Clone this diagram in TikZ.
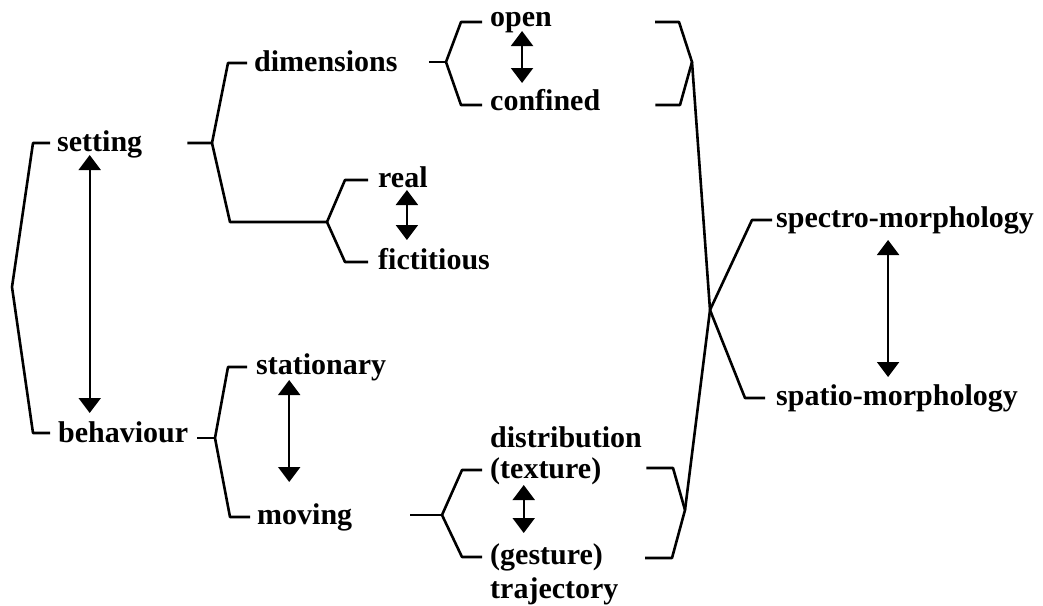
\documentclass[tikz,border=0pt]{standalone}
\usepackage{fontspec}
\setmainfont{Liberation Serif}
\usetikzlibrary{arrows.meta,calc}
\tikzset{
  >={Triangle[length=15pt,width=22pt]},
  term/.style={font=\fontsize{30}{34}\selectfont\bfseries, inner sep=0pt, anchor=base west},
  brk/.style={line width=2.6pt, line join=round},
  dbl/.style={<->, line width=2pt},
}

\begin{document}
\begin{tikzpicture}[x=1pt, y=-1pt]
  \useasboundingbox (0,0) rectangle (1043,605);
  % terms
  \node[term] (setting)   at (57,151)  {setting};
  \node[term] (behaviour) at (58,442)  {behaviour};
  \node[term] (dimensions) at (254,71) {dimensions};
  \node[term] (real)      at (378,187) {real};
  \node[term] (fictitious) at (378,269) {fictitious};
  \node[term] (stationary) at (256,374) {stationary};
  \node[term] (moving)    at (257,524) {moving};
  \node[term] (open)      at (490,27)  {open};
  \node[term] (confined)  at (490,110) {confined};
  \node[term] (distrib)   at (490,447) {distribution};
  \node[term] (texture)   at (490,478) {(texture)};
  \node[term] (gesture)   at (490,564) {(gesture)};
  \node[term] (traject)   at (490,598) {trajectory};
  \node[term] (spectro)   at (776,227) {spectro-morphology};
  \node[term] (spatio)    at (776,405) {spatio-morphology};
  % bracket joints
  \coordinate (jSB)  at (12,287);
  \coordinate (jSet) at (212,143);
  \coordinate (jRF)  at (327,222);
  \coordinate (jDim) at (446,62);
  \coordinate (jBeh) at (215,438);
  \coordinate (jMov) at (442,515);
  \coordinate (jOC)  at (692,62);
  \coordinate (jTG)  at (685,510);
  \coordinate (jX)   at (710,310);
  % brackets
  \draw[brk] ([xshift=-7pt,yshift=8pt]setting.base west) -- (33,143) -- (jSB)
             -- (33,433) -- ([xshift=-8pt,yshift=9pt]behaviour.base west);
  \draw[brk] ([xshift=45pt,yshift=8pt]setting.base east) -- (jSet)
             -- (228,63) -- ([xshift=-7pt,yshift=8pt]dimensions.base west);
  \draw[brk] (jSet) -- (230,222) -- (jRF);
  \draw[brk] ([xshift=-10pt,yshift=7pt]real.base west) -- (345,180) -- (jRF)
             -- (345,262) -- ([xshift=-10pt,yshift=7pt]fictitious.base west);
  \draw[brk] ([xshift=31pt,yshift=9pt]dimensions.base east) -- (jDim);
  \draw[brk] ([xshift=-8pt,yshift=5pt]open.base west) -- (461,22) -- (jDim)
             -- (461,105) -- ([xshift=-8pt,yshift=5pt]confined.base west);
  \draw[brk] ([xshift=9pt,yshift=4pt]behaviour.base east) -- (jBeh);
  \draw[brk] ([xshift=-9pt,yshift=7pt]stationary.base west) -- (228,367) -- (jBeh)
             -- (230,517) -- ([xshift=-7pt,yshift=7pt]moving.base west);
  \draw[brk] ([xshift=58pt,yshift=9pt]moving.base east) -- (jMov);
  \draw[brk] ([xshift=-8pt,yshift=8pt]texture.base west) -- (462,470) -- (jMov)
             -- (462,557) -- ([xshift=-8pt,yshift=7pt]gesture.base west);
  \draw[brk] ([xshift=103pt,yshift=5pt]open.base east) -- (679,22) -- (jOC)
             -- (680,105) -- ([xshift=55pt,yshift=5pt]confined.base east);
  \draw[brk] ([xshift=45pt,yshift=10pt]texture.base east) -- (673,468) -- (jTG)
             -- (672,558) -- ([xshift=42pt,yshift=6pt]gesture.base east);
  \draw[brk] (jOC) -- (jX) -- (jTG);
  \draw[brk] ([xshift=-4pt,yshift=7pt]spectro.base west) -- (752,220) -- (jX)
             -- (745,398) -- ([xshift=-11pt,yshift=7pt]spatio.base west);
  % opposition arrows
  \draw[dbl] ([xshift=-10pt,yshift=-4pt]setting.base) -- ($(setting.base |- behaviour.base)+(-10,-29)$);
  \draw[dbl] ([xshift=-32pt,yshift=-6pt]stationary.base) -- ($(stationary.base |- moving.base)+(-32,-42)$);
  \draw[dbl] ([xshift=4pt,yshift=-3pt]real.base) -- ($(real.base |- fictitious.base)+(4,-29)$);
  \draw[dbl] ([xshift=1pt,yshift=-4pt]open.base) -- ($(open.base |- confined.base)+(1,-27)$);
  \draw[dbl] ([xshift=-22pt,yshift=-7pt]texture.base) -- ($(texture.base |- gesture.base)+(-22,-31)$);
  \draw[dbl] ([xshift=-17pt,yshift=-13pt]spectro.base) -- ($(spectro.base |- spatio.base)+(-17,-28)$);
\end{tikzpicture}
\end{document}
